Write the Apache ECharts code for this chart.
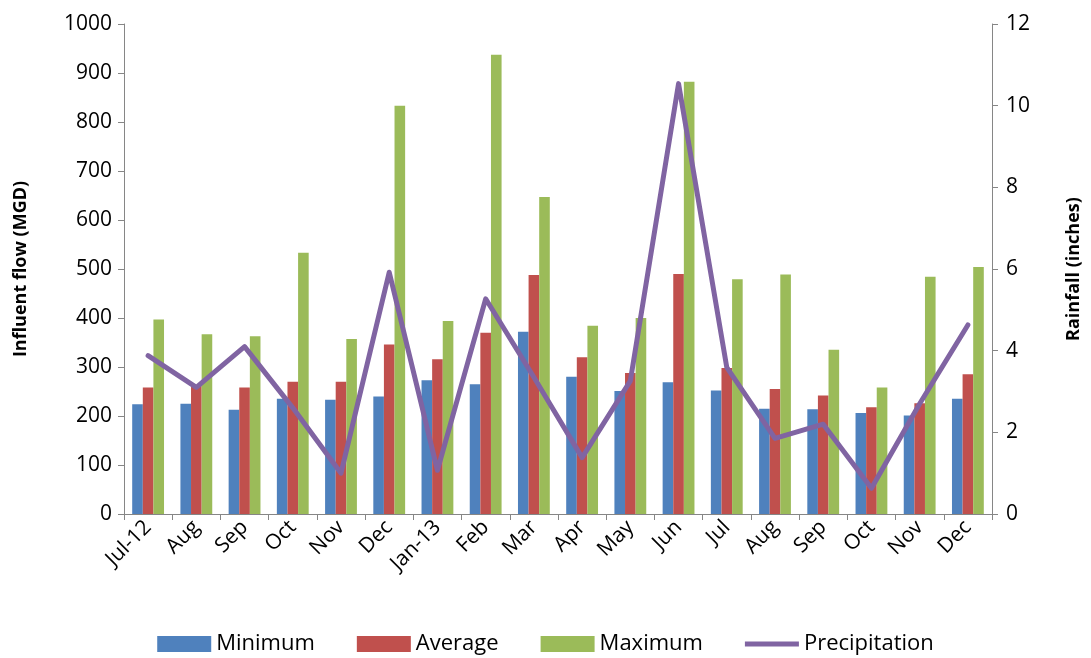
<!DOCTYPE html>
<html>
<head>
<meta charset="utf-8">
<title>Influent flow and rainfall</title>
<script src="https://cdn.jsdelivr.net/npm/echarts@6/dist/echarts.min.js"></script>
<style>
  html, body { margin: 0; padding: 0; background: #fff; }
  #chart { width: 1091px; height: 658px; }
</style>
</head>
<body>
<div id="chart"></div>
<script>
// Monthly influent flow (MGD) and rainfall (inches), Jul 2012 - Dec 2013
const months = ['Jul-12', 'Aug', 'Sep', 'Oct', 'Nov', 'Dec', 'Jan-13', 'Feb', 'Mar',
                'Apr', 'May', 'Jun', 'Jul', 'Aug', 'Sep', 'Oct', 'Nov', 'Dec'];
const minimumFlow = [224, 225, 213, 235, 233, 240, 273, 265, 372, 280, 251, 269, 252, 215, 214, 206, 201, 235];
const averageFlow = [258, 262, 258, 270, 270, 346, 316, 370, 488, 320, 288, 490, 298, 255, 242, 218, 226, 285];
const maximumFlow = [397, 367, 363, 533, 357, 833, 394, 937, 647, 384, 400, 882, 479, 489, 335, 258, 484, 504];
const precipitation = [3.88, 3.1, 4.1, 2.6, 1.0, 5.92, 1.07, 5.27, 3.35, 1.38, 3.26, 10.54, 3.59, 1.85, 2.2, 0.63, 2.7, 4.63];

const FONT = '"Open Sans", "Noto Sans", sans-serif';
const AXIS_GREY = '#868686';

const chart = echarts.init(document.getElementById('chart'), null, { renderer: 'canvas' });

const barSeries = (name, data, color) => ({
  name: name,
  type: 'bar',
  yAxisIndex: 0,
  data: data,
  barGap: '0%',
  barCategoryGap: '34%',
  itemStyle: { color: color },
  emphasis: { disabled: true }
});

chart.setOption({
  animation: false,
  textStyle: { fontFamily: FONT, color: '#000' },
  grid: { left: 124, right: 93, top: 24, bottom: 144, containLabel: false },
  legend: {
    bottom: -2,
    left: 'center',
    itemWidth: 54,
    itemHeight: 16,
    itemGap: 42,
    textStyle: { fontFamily: FONT, fontSize: 22, color: '#000' },
    data: [
      { name: 'Minimum', icon: 'rect' },
      { name: 'Average', icon: 'rect' },
      { name: 'Maximum', icon: 'rect' },
      { name: 'Precipitation', icon: 'path://M0,0L54,0L54,5L0,5Z' }
    ]
  },
  xAxis: {
    type: 'category',
    data: months,
    boundaryGap: true,
    axisLine: { lineStyle: { color: AXIS_GREY, width: 1 } },
    axisTick: { show: true, alignWithLabel: false, length: 6, lineStyle: { color: AXIS_GREY } },
    axisLabel: { rotate: 45, fontFamily: FONT, fontSize: 21, color: '#000', margin: 10, interval: 0 },
    splitLine: { show: false }
  },
  yAxis: [
    {
      type: 'value',
      min: 0,
      max: 1000,
      interval: 100,
      position: 'left',
      name: 'Influent flow (MGD)',
      nameLocation: 'middle',
      nameRotate: 90,
      nameGap: 94,
      nameTextStyle: { fontFamily: FONT, fontSize: 18, fontWeight: 'bold', color: '#000' },
      axisLine: { show: true, lineStyle: { color: AXIS_GREY, width: 1 } },
      axisTick: { show: true, length: 6, lineStyle: { color: AXIS_GREY } },
      axisLabel: { fontFamily: FONT, fontSize: 21, color: '#000', margin: 12, formatter: v => String(v) },
      splitLine: { show: false }
    },
    {
      type: 'value',
      min: 0,
      max: 12,
      interval: 2,
      position: 'right',
      name: 'Rainfall (inches)',
      nameLocation: 'middle',
      nameRotate: 90,
      nameGap: 73,
      nameTextStyle: { fontFamily: FONT, fontSize: 18, fontWeight: 'bold', color: '#000' },
      axisLine: { show: true, lineStyle: { color: AXIS_GREY, width: 1 } },
      axisTick: { show: true, length: 6, lineStyle: { color: AXIS_GREY } },
      axisLabel: { fontFamily: FONT, fontSize: 21, color: '#000', margin: 14 },
      splitLine: { show: false }
    }
  ],
  series: [
    barSeries('Minimum', minimumFlow, '#4F81BD'),
    barSeries('Average', averageFlow, '#C0504D'),
    barSeries('Maximum', maximumFlow, '#9BBB59'),
    {
      name: 'Precipitation',
      type: 'line',
      yAxisIndex: 1,
      data: precipitation,
      symbol: 'none',
      lineStyle: { color: '#8064A2', width: 5, join: 'round', cap: 'round' },
      itemStyle: { color: '#8064A2' },
      emphasis: { disabled: true },
      z: 5
    }
  ]
});
</script>
</body>
</html>
